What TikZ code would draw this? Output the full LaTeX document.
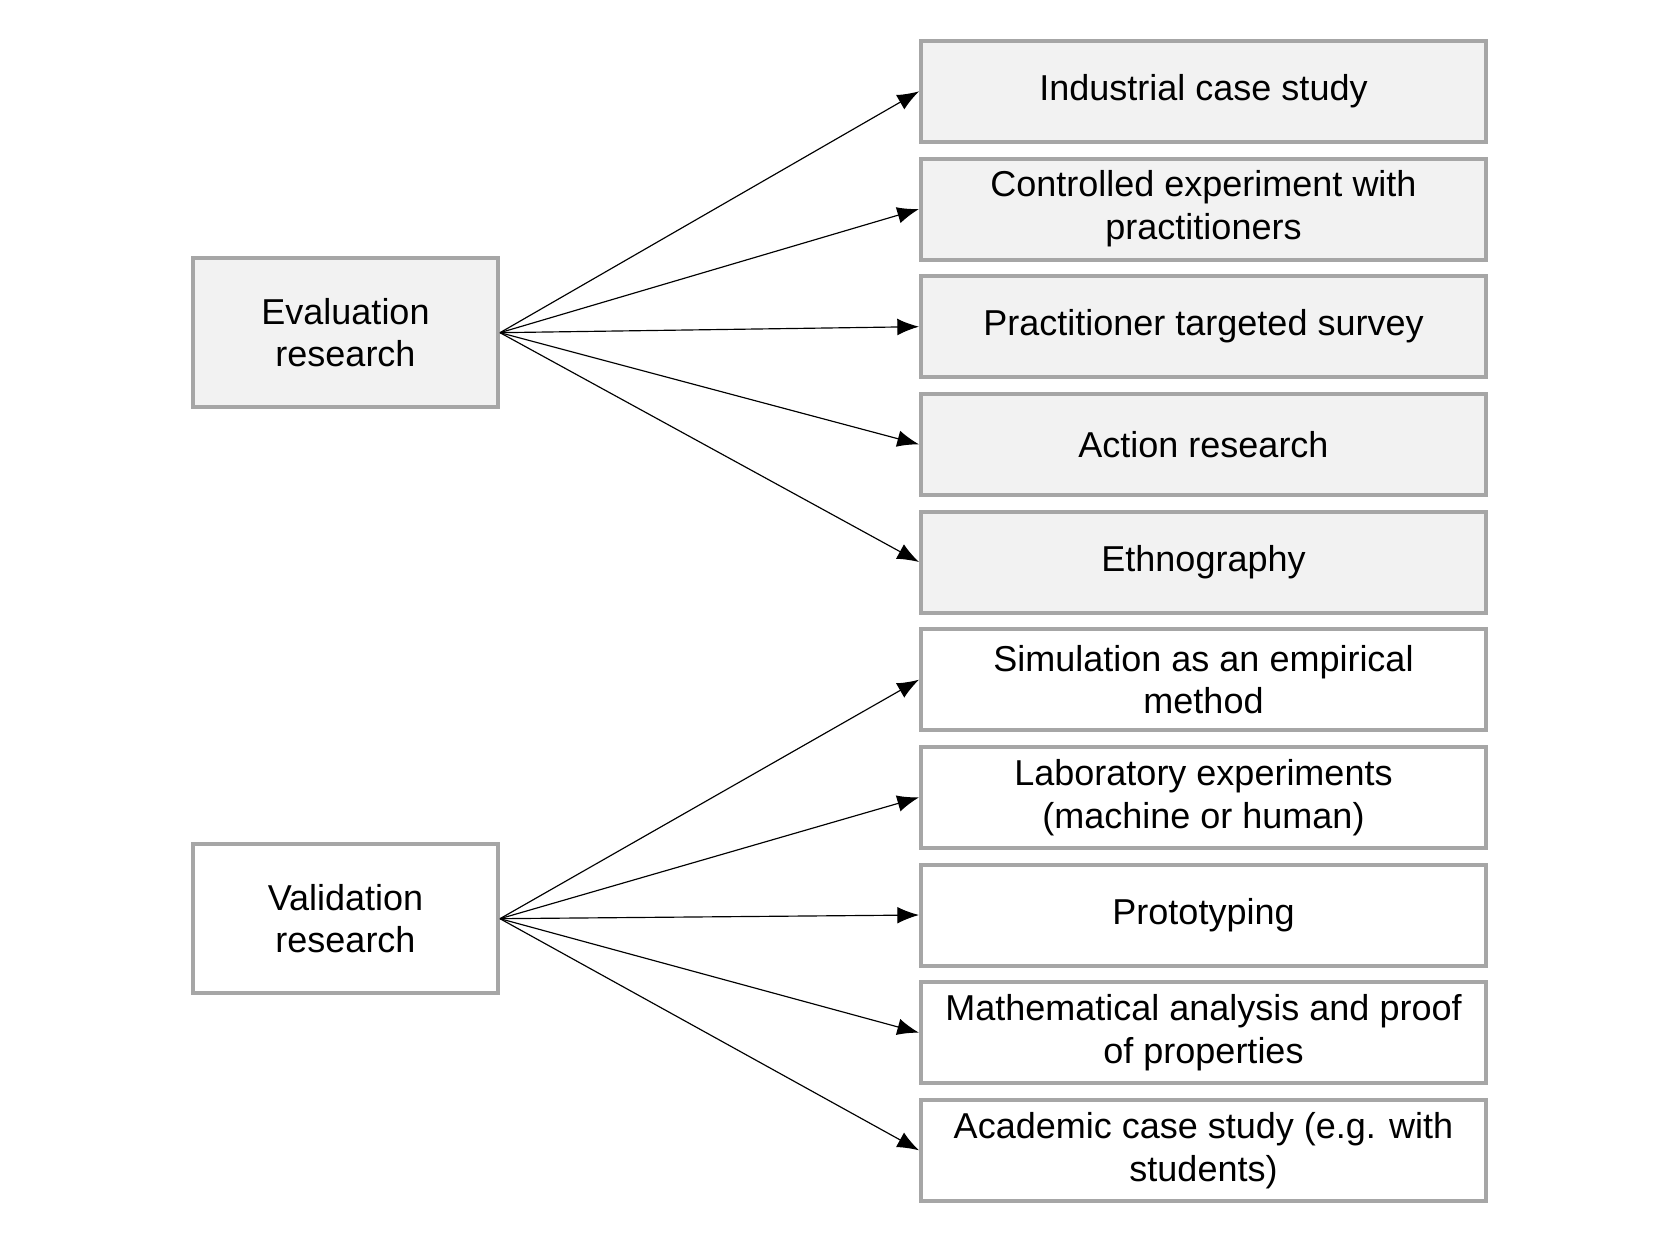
\documentclass[tikz,border=0pt]{standalone}
\usepackage{fontspec}
\setmainfont{Liberation Sans}
\usepackage{tikz}
\usetikzlibrary{positioning,arrows.meta}
\definecolor{boxclr}{rgb}{0.65, 0.65, 0.65}
\definecolor{evalclr}{rgb}{0.949, 0.949, 0.949}
\tikzset{ %
  ,>={Latex[length=6.5pt,width=5pt]}
  ,every node/.style={font=\fontsize{10.8pt}{12.8pt}\selectfont, align=center}
  ,group/.style={draw=boxclr, line width=1.2pt, minimum width=91.5pt, minimum height=44.7pt, inner sep=0}
  ,method/.style={draw=boxclr, line width=1.2pt, minimum width=169.5pt, minimum height=30.3pt, inner sep=0, node distance=3.8pt}
  ,evalm/.style={method, fill=evalclr}
  ,valm/.style={method, fill=white}
  ,link/.style={->, line width=0.35pt}
}
\begin{document}
\begin{tikzpicture}
    \useasboundingbox (0,0) rectangle (500.4pt,-375.6pt);
    \draw
    node[group, fill=evalclr] (eval) at (103.65pt,-99.8pt) {Evaluation\\research}
    node[group, fill=white] (valid) at (103.65pt,-275.6pt) {Validation\\research};
    \draw
    node[evalm] (ind) at (361.05pt,-27.4pt) {Industrial case study}
    node[evalm, below=of ind] (ctrl) {Controlled experiment with\\practitioners}
    node[evalm, below=of ctrl] (surv) {Practitioner targeted survey}
    node[evalm, below=of surv] (act) {Action research}
    node[evalm, below=of act] (eth) {Ethnography}
    node[valm, below=of eth] (sim) {Simulation as an empirical\\method}
    node[valm, below=of sim] (lab) {Laboratory experiments\\(machine or human)}
    node[valm, below=of lab] (proto) {Prototyping}
    node[valm, below=of proto] (math) {Mathematical analysis and proof\\of properties}
    node[valm, below=of math] (acad) {Academic case study (e.g. with\\students)};
    \path (eval.east) edge[link] (ind.west) (eval.east) edge[link] (ctrl.west)
      (eval.east) edge[link] (surv.west) (eval.east) edge[link] (act.west) (eval.east) edge[link] (eth.west);
    \path (valid.east) edge[link] (sim.west) (valid.east) edge[link] (lab.west)
      (valid.east) edge[link] (proto.west) (valid.east) edge[link] (math.west) (valid.east) edge[link] (acad.west);
  \end{tikzpicture}
\end{document}
